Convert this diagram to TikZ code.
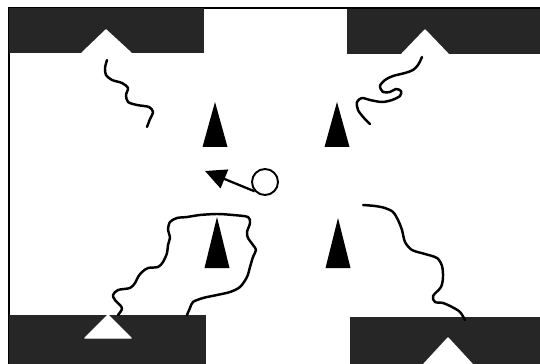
\documentclass[tikz,border=0pt]{standalone}
\usetikzlibrary{arrows.meta}

\begin{document}
\begin{tikzpicture}[
    x=0.02cm, y=-0.02cm,
    frame/.style={line width=1.3pt},
    block/.style={fill=black!85},
    peak/.style={fill=white, draw=white, line width=0.8pt, line join=round},
    cone/.style={fill=black},
    trail/.style={line width=1.4pt, line cap=round, line join=round},
    ball/.style={circle, draw, line width=1.1pt, inner sep=0pt, minimum size=0.52cm},
    pass/.style={line width=1.3pt, -{Triangle[length=0.42cm, width=0.4cm]}}
]
\useasboundingbox (0,0) rectangle (540,364);

% field border
\draw[frame] (9,364) -- (9,8) -- (540,8);

% corner blocks
\fill[block] (9,8) rectangle (204,53);
\fill[block] (347,9) rectangle (540,54);
\fill[block] (9,315) rectangle (206,364);
\fill[block] (350,317) rectangle (540,364);

% white peaks
\filldraw[peak] (106,30) -- (82,53) -- (131,53) -- cycle;
\filldraw[peak] (425,30) -- (402,54) -- (448,54) -- cycle;
\filldraw[peak] (108,315) -- (85,338) -- (131,338) -- cycle;
\filldraw[peak] (448,338) -- (424,364) -- (472,364) -- cycle;

% cones
\foreach \x/\y/\h in {215/102/45, 337/102/45, 217/217/51, 338/218/50}
    \fill[cone] (\x,\y) -- (\x-12.5,\y+\h) -- (\x+12.5,\y+\h) -- cycle;

% ball and pass
\node[ball] (ball) at (265,182) {};
\coordinate (kick) at (205,171);
\draw[pass] (ball.222) -- (kick);

% trails
\draw[trail] plot[smooth] coordinates {(107,60) (105,68) (106,75) (112,80)
    (122,83) (128,88) (126,95) (128,102) (137,105) (149,107) (153,112)
    (150,119) (147,127)};
\draw[trail] plot[smooth] coordinates {(422,57) (418,65) (413,70) (405,73)
    (393,76) (385,80) (380,86) (383,92) (390,92) (396,89) (401,91) (400,96)
    (392,100) (382,102) (370,100) (362,98) (357,102) (358,110) (364,118)
    (370,124)};
\draw[trail] plot[smooth] coordinates {(118,315) (122,308) (115,300)
    (113,295) (118,290) (130,288) (135,283) (138,277) (142,272) (148,268)
    (158,267) (163,262) (167,253) (168,245) (170,237) (168,230) (170,222)
    (177,218) (187,217) (200,215) (217,214) (233,215) (248,217) (250,223)
    (247,232) (248,238) (253,245) (256,250) (253,257) (250,267) (247,277)
    (240,287) (230,292) (217,295) (203,298) (193,302) (190,308) (187,315)};
\draw[trail] plot[smooth] coordinates {(363,205) (375,206) (385,208)
    (393,212) (398,220) (402,230) (405,242) (412,250) (425,254) (437,258)
    (442,266) (443,277) (441,287) (433,296) (435,302) (443,303) (452,307)
    (460,312) (465,320)};

\end{tikzpicture}
\end{document}
